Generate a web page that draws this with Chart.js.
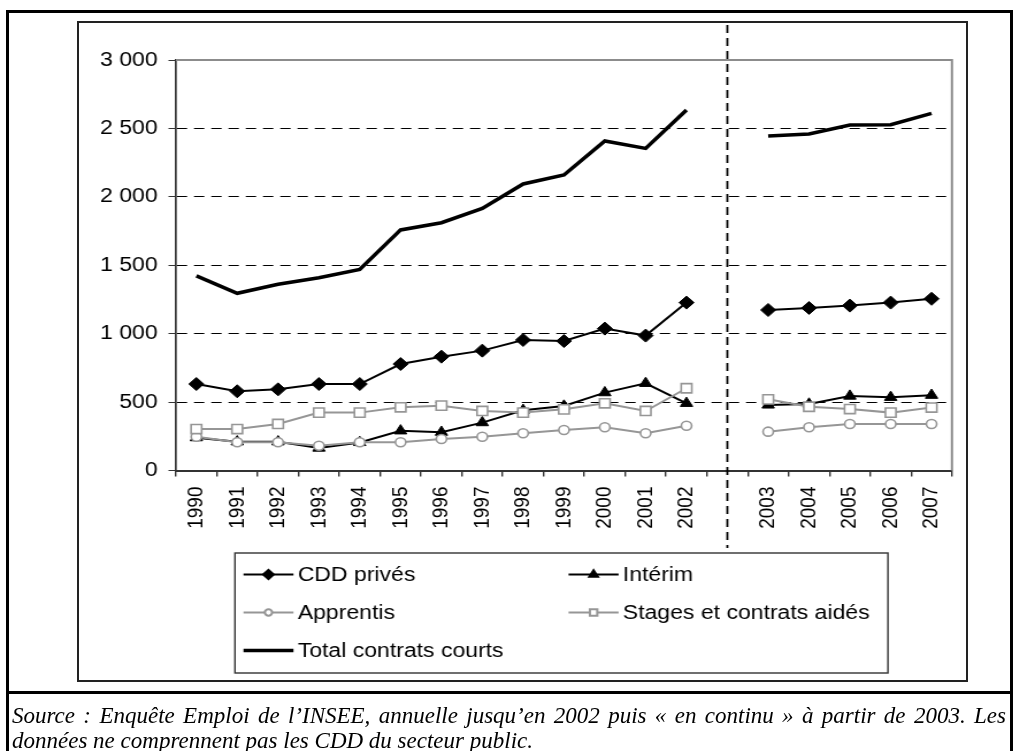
<!DOCTYPE html>
<html>
<head>
<meta charset="utf-8">
<script src="https://cdn.jsdelivr.net/npm/chart.js@4.4.0/dist/chart.umd.min.js"></script>
<style>
    html, body { margin: 0; padding: 0; background: #fff; overflow: hidden; }
    body { width: 1024px; height: 751px; position: relative; }
    #outer { position: absolute; left: 6px; top: 10px; width: 1007px; height: 760px; border: 3px solid #000; border-bottom: none; box-sizing: border-box; }
    #sep { position: absolute; left: 6px; top: 691px; width: 1007px; height: 3px; background: #000; }
    #box { position: absolute; left: 77px; top: 21px; width: 891px; height: 661px; border: 2px solid #222; box-sizing: border-box; }
    #wrap { position: absolute; left: 0; top: 0; width: 890px; height: 751px; transform: scaleX(1.15); transform-origin: 0 0; }
    #chart { display: block; }
    #source { position: absolute; left: 12px; top: 703px; width: 994px; font: italic 23px "Liberation Serif", "Times New Roman", serif; line-height: 25px; color: #000; }
    #source .l1 { text-align: justify; text-align-last: justify; white-space: nowrap; }
</style>
</head>
<body>
<div id="outer"></div>
<div id="box"></div>
<div id="sep"></div>
<div id="wrap"><canvas id="chart" width="890" height="751"></canvas></div>
<div id="source">
    <div class="l1">Source : Enquête Emploi de l’INSEE, annuelle jusqu’en 2002 puis « en continu » à partir de 2003. Les</div>
    <div>données ne comprennent pas les CDD du secteur public.</div>
</div>
<script>
// x stretch of the reference picture
const SX = 1.15;

const years = ['1990', '1991', '1992', '1993', '1994', '1995', '1996', '1997', '1998', '1999',
    '2000', '2001', '2002', '', '2003', '2004', '2005', '2006', '2007'];
const cddPrives = [632, 579, 593, 632, 632, 778, 832, 876, 954, 946, 1037, 986, 1227, null, 1173, 1188, 1205, 1227, 1255];
const interim = [240, 210, 210, 164, 205, 290, 280, 350, 440, 471, 569, 637, 491, null, 479, 486, 544, 535, 550];
const apprentis = [247, 206, 206, 181, 206, 206, 230, 247, 272, 296, 316, 272, 327, null, 284, 316, 340, 340, 340];
const stages = [303, 303, 340, 423, 423, 462, 474, 435, 423, 447, 491, 435, 601, null, 520, 466, 449, 423, 460];
const totalCourts = [1422, 1295, 1361, 1409, 1470, 1758, 1811, 1916, 2094, 2160, 2408, 2354, 2635, null, 2445, 2459, 2525, 2527, 2610];
const yTicks = [0, 500, 1000, 1500, 2000, 2500, 3000];
const breakIndex = 13;

const GREY = '#969696';

function fmt(v) {
    return String(v).replace(/\B(?=(\d{3})+(?!\d))/g, ' ');
}

// legend rows / columns (internal coords)
const legendItems = [
    { ds: 0, x: 211.7, y: 574.5 },
    { ds: 1, x: 494.4, y: 574.5 },
    { ds: 2, x: 211.7, y: 612.5 },
    { ds: 3, x: 494.4, y: 612.5 },
    { ds: 4, x: 211.7, y: 650.5 }
];

const decor = {
    id: 'decor',
    beforeDatasetsDraw(chart) {
        const { ctx, chartArea: a } = chart;
        ctx.save();
        ctx.strokeStyle = '#8c8c8c';
        ctx.lineWidth = 2;
        ctx.beginPath();
        ctx.moveTo(a.left, a.top);
        ctx.lineTo(a.right, a.top);
        ctx.lineTo(a.right, a.bottom);
        ctx.stroke();
        ctx.restore();
    },
    afterDraw(chart) {
        const { ctx } = chart;
        const x = chart.scales.x.getPixelForTick(breakIndex);
        ctx.save();
        ctx.strokeStyle = '#000';
        ctx.lineWidth = 1.8;
        ctx.setLineDash([8, 5]);
        ctx.beginPath();
        ctx.moveTo(x, 25);
        ctx.lineTo(x, 548);
        ctx.stroke();
        ctx.restore();

        // legend
        ctx.save();
        ctx.strokeStyle = '#333';
        ctx.lineWidth = 1.4;
        ctx.strokeRect(204.3, 553, 567.8, 120);
        ctx.font = '20px "Liberation Sans", Arial, sans-serif';
        ctx.textBaseline = 'middle';
        ctx.fillStyle = '#000';
        legendItems.forEach(it => {
            const ds = chart.data.datasets[it.ds];
            ctx.strokeStyle = ds.borderColor;
            ctx.lineWidth = ds.borderWidth;
            ctx.beginPath();
            ctx.moveTo(it.x, it.y);
            ctx.lineTo(it.x + 43.5, it.y);
            ctx.stroke();
            if (ds.pointRadius > 0) {
                ctx.fillStyle = ds.pointBackgroundColor;
                ctx.strokeStyle = ds.pointBorderColor;
                Chart.helpers.drawPoint(ctx, {
                    pointStyle: ds.pointStyle,
                    rotation: 0,
                    radius: ds.pointRadius * 0.7,
                    borderWidth: ds.pointBorderWidth
                }, it.x + 21.75, it.y);
            }
            ctx.fillStyle = '#000';
            ctx.fillText(ds.label, it.x + 47.2, it.y + 1);
        });
        ctx.restore();
    }
};

new Chart(document.getElementById('chart'), {
    type: 'line',
    data: {
        labels: years,
        datasets: [
            {
                label: 'CDD privés', data: cddPrives, order: 4,
                borderColor: '#000', borderWidth: 2,
                pointStyle: 'rectRot', pointRadius: 6.5,
                pointBackgroundColor: '#000', pointBorderColor: '#000', pointBorderWidth: 1
            },
            {
                label: 'Intérim', data: interim, order: 3,
                borderColor: '#000', borderWidth: 2,
                pointStyle: 'triangle', pointRadius: 6.2,
                pointBackgroundColor: '#000', pointBorderColor: '#000', pointBorderWidth: 1
            },
            {
                label: 'Apprentis', data: apprentis, order: 2,
                borderColor: GREY, borderWidth: 2,
                pointStyle: 'circle', pointRadius: 4.5,
                pointBackgroundColor: '#fff', pointBorderColor: GREY, pointBorderWidth: 1.6
            },
            {
                label: 'Stages et contrats aidés', data: stages, order: 1,
                borderColor: GREY, borderWidth: 2,
                pointStyle: 'rect', pointRadius: 6.5,
                pointBackgroundColor: '#fff', pointBorderColor: GREY, pointBorderWidth: 1.6
            },
            {
                label: 'Total contrats courts', data: totalCourts, order: 0,
                borderColor: '#000', borderWidth: 3.5,
                pointRadius: 0
            }
        ]
    },
    options: {
        responsive: false,
        animation: false,
        spanGaps: false,
        layout: { padding: { left: 0, right: 62.2, top: 60, bottom: 220.5 } },
        plugins: { legend: { display: false }, tooltip: { enabled: false } },
        elements: { line: { tension: 0 } },
        scales: {
            x: {
                offset: true,
                afterFit: s => { s.height = 60; },
                grid: { offset: true, drawOnChartArea: false, drawTicks: true, tickLength: 6, tickColor: '#333', lineWidth: 1.4 },
                border: { display: true, color: '#333', width: 2 },
                ticks: {
                    minRotation: 90, maxRotation: 90, autoSkip: false, padding: 10,
                    color: '#000', font: { family: '"Liberation Sans", Arial, sans-serif', size: 19 }
                }
            },
            y: {
                min: 0, max: 3000,
                afterFit: s => { s.width = 153; },
                afterBuildTicks: s => { s.ticks = yTicks.map(v => ({ value: v })); },
                grid: {
                    color: c => (c.tick && (c.tick.value === 0 || c.tick.value === 3000)) ? 'rgba(0,0,0,0)' : '#000',
                    lineWidth: 1, tickLength: 6.5, tickColor: '#333'
                },
                border: { display: true, color: '#333', width: 1.7, dash: [9, 6] },
                ticks: {
                    padding: 9.5, color: '#000',
                    font: { family: '"Liberation Sans", Arial, sans-serif', size: 20 },
                    callback: v => fmt(v)
                }
            }
        }
    },
    plugins: [decor]
});
</script>
</body>
</html>
